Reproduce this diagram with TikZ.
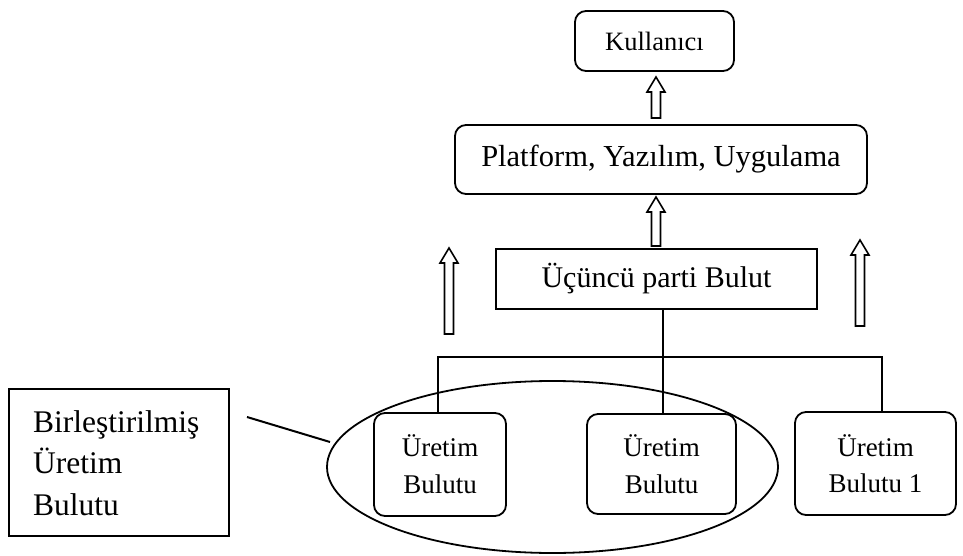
\documentclass[tikz,border=0pt]{standalone}
\usepackage{fontspec}
\setmainfont{Liberation Serif}
\tikzset{
  rbox/.style={draw, line width=1.8pt, rounded corners=11pt, inner sep=0pt, align=center},
  sbox/.style={draw, line width=2.6pt, inner sep=0pt, align=center},
  lbox/.style={draw, line width=2pt, inner sep=0pt},
  wire/.style={line width=2pt},
  hollow/.style={draw, line width=1.6pt, fill=white, line join=miter},
}
\newcommand{\hollowarr}[3]{% x, ytip, ybottom
  \draw[hollow] (#1-4.5,#3) -- (#1-4.5,#2+15) -- (#1-9,#2+15) -- (#1,#2)
    -- (#1+9,#2+15) -- (#1+4.5,#2+15) -- (#1+4.5,#3) -- cycle;}
\begin{document}
\begin{tikzpicture}[x=1pt,y=-1pt]
\useasboundingbox (0,0) rectangle (963,556);
% top boxes
\node[rbox, minimum width=159pt, minimum height=60pt, font=\fontsize{26.5}{30}\selectfont]
  (kul) at (654.5,41) {Kullanıcı};
\node[rbox, minimum width=412pt, minimum height=69pt, font=\fontsize{30.5}{34}\selectfont]
  (plat) at (661,159.5) {Platform, Yazılım, Uygulama};
\node[sbox, minimum width=321pt, minimum height=60pt, font=\fontsize{30}{34}\selectfont]
  (ucu) at (656.5,279) {Üçüncü parti Bulut};
% ellipse
\draw[line width=1.8pt] (552.5,467) ellipse [x radius=225.5pt, y radius=86pt];
\coordinate (ell) at (552.5,467);
% production boxes
\node[rbox, minimum width=132pt, minimum height=103pt, font=\fontsize{27}{37}\selectfont]
  (u1) at (440,464.5) {Üretim\\Bulutu};
\node[rbox, minimum width=149pt, minimum height=100pt, font=\fontsize{27}{37}\selectfont]
  (u2) at (661.5,464) {Üretim\\Bulutu};
\node[rbox, minimum width=161pt, minimum height=103pt, font=\fontsize{27}{36}\selectfont]
  (u3) at (875.5,463.5) {Üretim\\Bulutu 1};
% left box
\node[lbox, minimum width=220pt, minimum height=147pt] (lb) at (119,462.5) {};
\node[anchor=west, inner sep=0pt, align=left, font=\fontsize{31.5}{41.5}\selectfont]
  (lbt) at (33,463) {Birleştirilmiş\\Üretim\\Bulutu};
\coordinate (lf) at (247,417);
\coordinate (le) at (330,442);
\draw[wire] (lf) -- (le);
% bus
\coordinate (bl) at (438,357);
\coordinate (bm) at (663,357);
\coordinate (br) at (882,357);
\draw[wire] (ucu.south -| bm) -- (bm);
\draw[wire, line cap=rect] (bl) -- (br);
\draw[wire] (bl) -- (bl |- u1.north);
\draw[wire] (bm) -- (bm |- u2.north);
\draw[wire] (br) -- (br |- u3.north);
% hollow arrows
\hollowarr{656}{77}{118}
\hollowarr{656}{197}{246}
\hollowarr{449}{248}{334}
\hollowarr{860}{240}{326}
\end{tikzpicture}
\end{document}
